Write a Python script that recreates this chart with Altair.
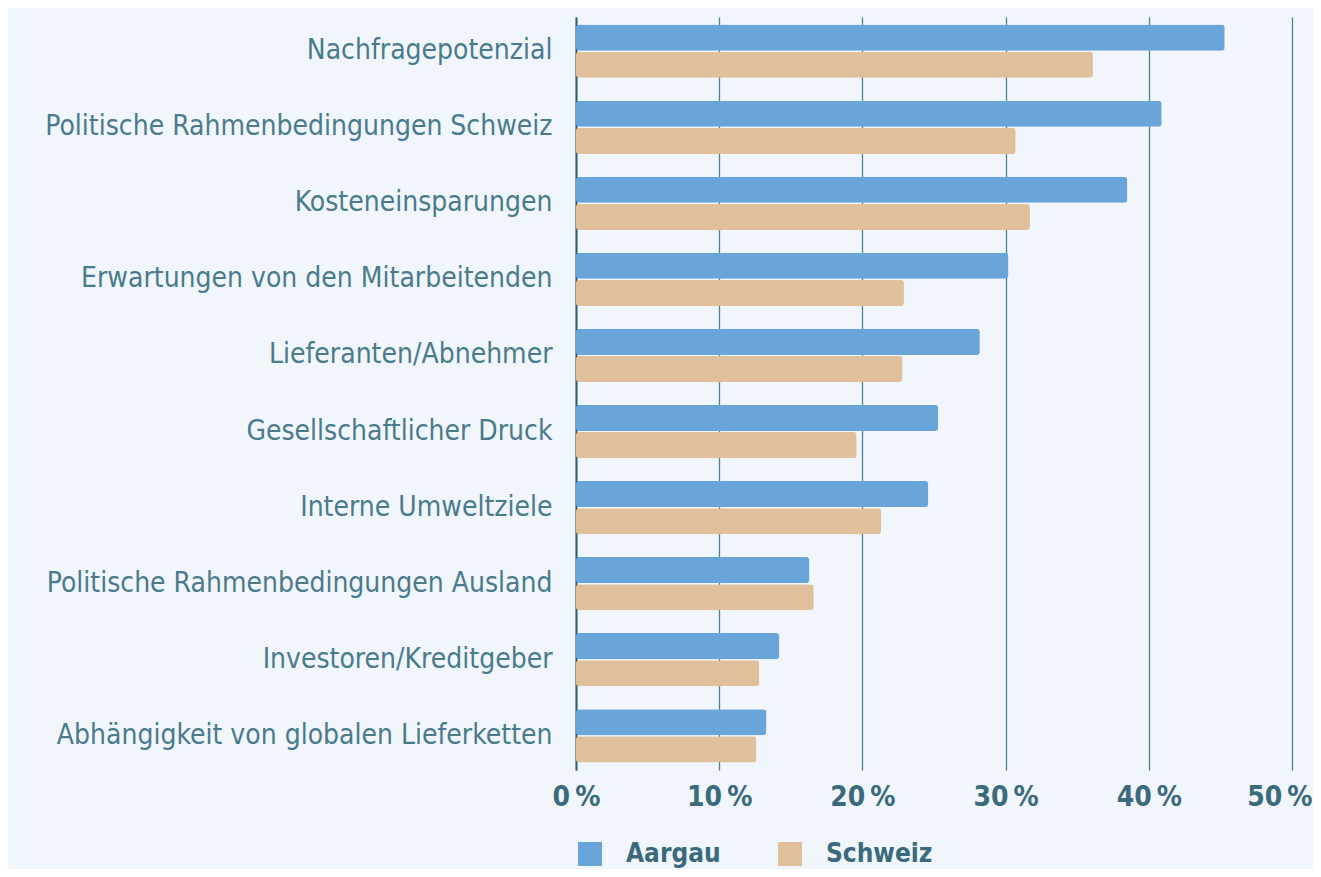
import altair as alt
import pandas as pd

categories = [
    "Nachfragepotenzial",
    "Politische Rahmenbedingungen Schweiz",
    "Kosteneinsparungen",
    "Erwartungen von den Mitarbeitenden",
    "Lieferanten/Abnehmer",
    "Gesellschaftlicher Druck",
    "Interne Umweltziele",
    "Politische Rahmenbedingungen Ausland",
    "Investoren/Kreditgeber",
    "Abhängigkeit von globalen Lieferketten",
]
aargau = [45.3, 40.9, 38.5, 30.2, 28.2, 25.3, 24.6, 16.3, 14.2, 13.3]
schweiz = [36.1, 30.7, 31.7, 22.9, 22.8, 19.6, 21.3, 16.6, 12.8, 12.6]
regions = ["Aargau", "Schweiz"]
colors = ["#6aa5da", "#e0c09b"]
ticks = [0, 10, 20, 30, 40, 50]

rows = []
for c, a, s in zip(categories, aargau, schweiz):
    rows.append({"Kategorie": c, "Region": "Aargau", "Wert": a})
    rows.append({"Kategorie": c, "Region": "Schweiz", "Wert": s})
df = pd.DataFrame(rows)

FONT = "Liberation Sans Narrow, DejaVu Sans Condensed, Roboto, sans-serif"
LABEL_COLOR = "#4a7a8c"
BOLD_COLOR = "#3b6a7c"

chart = alt.Chart(df).mark_bar(cornerRadius=3).encode(
    y=alt.Y(
        "Kategorie:N",
        sort=categories,
        scale=alt.Scale(paddingInner=0.3, paddingOuter=0.1),
        axis=alt.Axis(
            title=None, ticks=False, domain=True, domainColor="#2f5f70", domainWidth=2,
            labelPadding=24, labelFontSize=28, labelColor=LABEL_COLOR, labelFont=FONT,
            labelLimit=0, grid=False,
        ),
    ),
    yOffset=alt.YOffset("Region:N", sort=regions, scale=alt.Scale(paddingInner=0.04)),
    x=alt.X(
        "Wert:Q",
        scale=alt.Scale(domain=[0, 50]),
        axis=alt.Axis(
            title=None, values=ticks, labelExpr="datum.value + '\u2009%'",
            domain=False, ticks=False, grid=True, gridColor="#4f7f90", gridWidth=1.3,
            labelPadding=13, labelFontSize=28, labelFontWeight="bold", labelFlush=False,
            labelAlign=alt.condition("datum.value == 50", alt.value("right"), alt.value("center")),
            labelOffset=alt.condition("datum.value == 50", alt.value(20), alt.value(0)),
            labelColor=BOLD_COLOR, labelFont=FONT,
        ),
    ),
    color=alt.Color(
        "Region:N",
        sort=regions,
        scale=alt.Scale(domain=regions, range=colors),
        legend=alt.Legend(
            title=None, orient="none", direction="horizontal", legendX=1, legendY=824,
            symbolType="square", symbolSize=576, symbolStrokeWidth=0,
            labelFontSize=26, labelFontWeight="bold", labelColor=BOLD_COLOR, labelFont=FONT,
            labelOffset=23, columnPadding=56, padding=0,
        ),
    ),
).properties(
    width=716,
    height=753,
    autosize=alt.AutoSizeParams(type="none"),
    padding={"left": 568, "top": 9, "right": 21, "bottom": 99},
    background="#f0f6fb",
).configure_view(stroke=None)

chart.save("out.html", embed_options={"renderer": "svg", "actions": False})
